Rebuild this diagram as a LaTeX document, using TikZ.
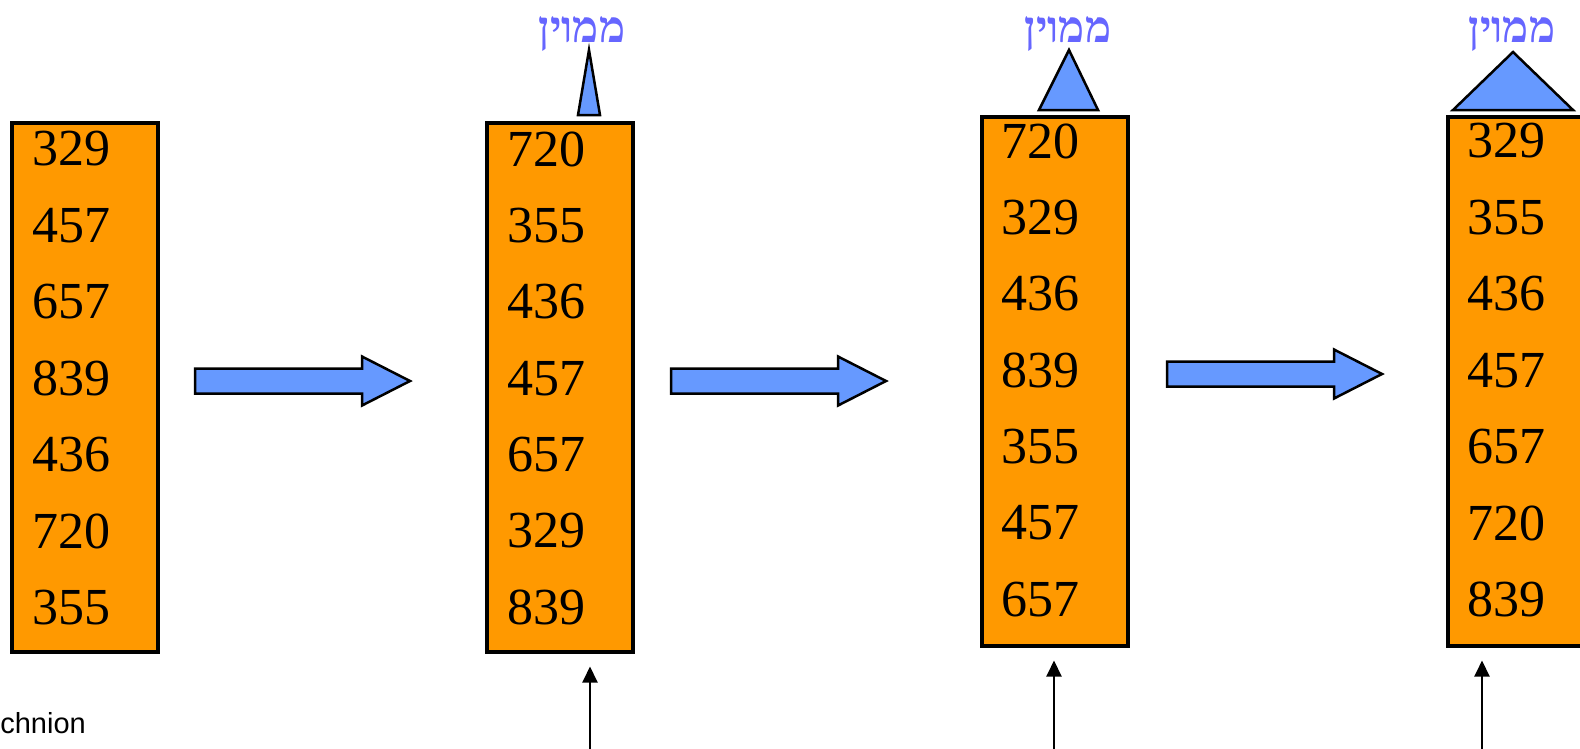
\documentclass[tikz,border=0pt]{standalone}
\usepackage{fontspec}
\setmainfont{Liberation Serif}
\newfontfamily\hebfont[Script=Hebrew]{Liberation Serif}
\newfontfamily\labelsans{Liberation Sans}
\TeXXeTstate=1
\usetikzlibrary{arrows.meta}
\definecolor{boxorange}{RGB}{255,153,0}
\definecolor{arrowblue}{RGB}{102,153,255}
\definecolor{hebviolet}{RGB}{102,102,255}
\tikzset{
  numbox/.style={draw=black, line width=3.5pt, fill=boxorange, rectangle,
    minimum width=146pt, minimum height=529pt, inner sep=0pt, anchor=north west},
  numtext/.style={anchor=west, inner sep=0pt, font=\fontsize{52}{60}\selectfont},
  blockarrow/.style={draw=black, line width=2.5pt, fill=arrowblue, line join=miter},
  pointer/.style={draw=black, line width=2.5pt, fill=arrowblue, line join=miter},
  sortedlabel/.style={anchor=base, inner sep=0pt, text=hebviolet,
    font=\hebfont\bfseries\fontsize{44}{48}\selectfont},
  feed/.style={draw=black, line width=2pt, -{Triangle[width=15pt,length=16pt]}, shorten >=13pt}
}
\begin{document}
\begin{tikzpicture}[x=1pt, y=-1pt]
  \useasboundingbox (0,0) rectangle (1580,748);
  \clip (0,0) rectangle (1580,748);

  % the four columns of numbers
  \node[numbox] (b1) at (10,121) {};
  \node[numbox] (b2) at (485,121) {};
  \node[numbox] (b3) at (980,115) {};
  \node[numbox] (b4) at (1446,115) {};

  \foreach \v [count=\i] in {329,457,657,839,436,720,355}
    \node[numtext] (b1n\i) at (32, {149+76.4*(\i-1)}) {\v};
  \foreach \v [count=\i] in {720,355,436,457,657,329,839}
    \node[numtext] (b2n\i) at (507, {149+76.4*(\i-1)}) {\v};
  \foreach \v [count=\i] in {720,329,436,839,355,457,657}
    \node[numtext] (b3n\i) at (1001, {141+76.4*(\i-1)}) {\v};
  \foreach \v [count=\i] in {329,355,436,457,657,720,839}
    \node[numtext] (b4n\i) at (1467, {141+76.4*(\i-1)}) {\v};

  % block arrows between the columns
  \foreach \x/\y [count=\k] in {195/381, 671/381, 1167/374}
    \draw[blockarrow] (\x,\y-12.5) -- ++(167,0) -- ++(0,-12) -- ++(48,24.5)
      -- ++(-48,24.5) -- ++(0,-12) -- ++(-167,0) -- cycle;

  % growing "sorted" pointers above the columns
  \draw[pointer] (589,50) -- (600,115) -- (578,115) -- cycle;
  \draw[pointer] (1069,50) -- (1098,110) -- (1039,110) -- cycle;
  \draw[pointer] (1513,52) -- (1573,110) -- (1453,110) -- cycle;

  \node[sortedlabel] (s2) at (582,42) {\beginR ממוין\endR};
  \node[sortedlabel] (s3) at (1068,42) {\beginR ממוין\endR};
  \node[sortedlabel] (s4) at (1512,42) {\beginR ממוין\endR};

  % input arrows from below
  \coordinate (f2) at (590,760);
  \coordinate (f3) at (1054,760);
  \coordinate (f4) at (1482,760);
  \draw[feed] (f2) -- (f2 |- b2.south);
  \draw[feed] (f3) -- (f3 |- b3.south);
  \draw[feed] (f4) -- (f4 |- b4.south);

  \node[anchor=base east, inner sep=0pt, font=\labelsans\fontsize{29}{32}\selectfont]
    (tech) at (86,733) {Technion};
\end{tikzpicture}
\end{document}
